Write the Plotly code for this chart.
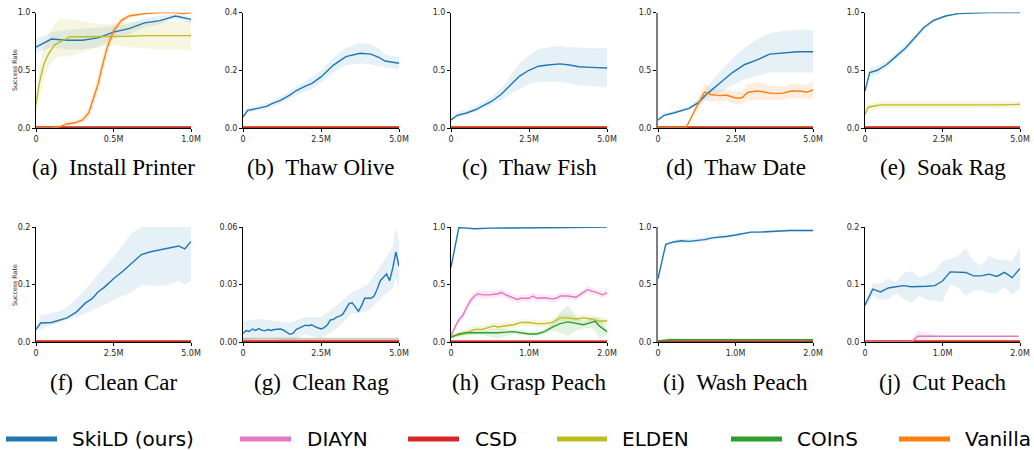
import plotly.graph_objects as go

W, H = 1034, 450

METHODS = ["SkiLD (ours)", "DIAYN", "CSD", "ELDEN", "COInS", "Vanilla"]
COLORS = ["#1f77b4", "#e377c2", "#d62728", "#bcbd22", "#2ca02c", "#ff7f0e"]
FILLS = ["rgba(31,119,180,0.11)", "rgba(227,119,194,0.16)", "rgba(120,80,70,0.30)",
         "rgba(188,189,34,0.14)", "rgba(44,160,44,0.14)", "rgba(255,127,14,0.13)"]

TITLES = ["(a)\u2002Install Printer", "(b)\u2002Thaw Olive", "(c)\u2002Thaw Fish", "(d)\u2002Thaw Date",
          "(e)\u2002Soak Rag", "(f)\u2002Clean Car", "(g)\u2002Clean Rag", "(h)\u2002Grasp Peach",
          "(i)\u2002Wash Peach", "(j)\u2002Cut Peach"]

X_MAX = [1.0, 5.0, 5.0, 5.0, 5.0, 5.0, 5.0, 2.0, 2.0, 2.0]
X_TICKS = [[0, 0.5, 1.0], [0, 2.5, 5.0], [0, 2.5, 5.0], [0, 2.5, 5.0], [0, 2.5, 5.0],
           [0, 2.5, 5.0], [0, 2.5, 5.0], [0, 1.0, 2.0], [0, 1.0, 2.0], [0, 1.0, 2.0]]
X_TICK_TEXT = [["0", "0.5M", "1.0M"]] + [["0", "2.5M", "5.0M"]] * 6 + [["0", "1.0M", "2.0M"]] * 3
Y_MAX = [1.0, 0.4, 1.0, 1.0, 1.0, 0.2, 0.06, 1.0, 1.0, 0.2]
Y_TICKS = [[0, 0.5, 1.0], [0, 0.2, 0.4], [0, 0.5, 1.0], [0, 0.5, 1.0], [0, 0.5, 1.0],
           [0, 0.1, 0.2], [0, 0.03, 0.06], [0, 0.5, 1.0], [0, 0.5, 1.0], [0, 0.1, 0.2]]
Y_TICK_TEXT = [["0.0", "0.5", "1.0"], ["0.0", "0.2", "0.4"], ["0.0", "0.5", "1.0"], ["0.0", "0.5", "1.0"],
               ["0.0", "0.5", "1.0"], ["0.0", "0.1", "0.2"], ["0.00", "0.03", "0.06"],
               ["0.0", "0.5", "1.0"], ["0.0", "0.5", "1.0"], ["0.0", "0.1", "0.2"]]

# ---------------- (a) Install Printer ----------------
a_skild_x = [0, 0.1, 0.2, 0.3, 0.4, 0.5, 0.6, 0.7, 0.8, 0.9, 1.0]
a_skild = [0.70, 0.77, 0.76, 0.76, 0.78, 0.83, 0.86, 0.91, 0.93, 0.97, 0.94]
a_skild_lo = [0.65, 0.70, 0.68, 0.68, 0.70, 0.77, 0.81, 0.87, 0.90, 0.95, 0.91]
a_skild_hi = [0.77, 0.83, 0.85, 0.86, 0.87, 0.88, 0.90, 0.95, 0.97, 0.99, 0.96]
a_elden_x = [0, 0.02, 0.05, 0.08, 0.12, 0.16, 0.22, 0.3, 0.4, 0.5, 0.6, 0.7, 0.8, 0.9, 1.0]
a_elden = [0.20, 0.38, 0.55, 0.64, 0.72, 0.75, 0.79, 0.79, 0.79, 0.795, 0.795, 0.80, 0.80, 0.80, 0.80]
a_elden_lo = [0.12, 0.25, 0.42, 0.52, 0.60, 0.62, 0.62, 0.66, 0.70, 0.72, 0.70, 0.69, 0.68, 0.68, 0.67]
a_elden_hi = [0.28, 0.52, 0.70, 0.80, 0.90, 0.95, 0.94, 0.92, 0.90, 0.90, 0.92, 0.92, 0.92, 0.92, 0.93]
a_van_x = [0, 0.1, 0.15, 0.2, 0.25, 0.3, 0.34, 0.37, 0.4, 0.43, 0.46, 0.5, 0.55, 0.6, 0.7, 0.8, 0.9, 0.95, 1.0]
a_van = [0, 0, 0.01, 0.035, 0.045, 0.07, 0.13, 0.25, 0.38, 0.55, 0.70, 0.84, 0.93, 0.97, 0.99, 1.0, 1.0, 0.99, 1.0]
a_van_hw = [0, 0, 0.01, 0.02, 0.02, 0.03, 0.05, 0.07, 0.08, 0.08, 0.07, 0.05, 0.03, 0.02, 0.01, 0.01, 0.01, 0.01, 0.01]

# ---------------- (b) Thaw Olive ----------------
b_skild_x = [0, 0.15, 0.3, 0.55, 0.75, 0.95, 1.2, 1.5, 1.7, 2.0, 2.2, 2.5, 2.9, 3.3, 3.75, 4.1, 4.35, 4.55, 5.0]
b_skild = [0.038, 0.061, 0.064, 0.071, 0.075, 0.085, 0.096, 0.114, 0.129, 0.145, 0.154, 0.177, 0.218, 0.247,
           0.259, 0.256, 0.245, 0.232, 0.224]
b_skild_hw = [0.005, 0.008, 0.008, 0.010, 0.010, 0.010, 0.012, 0.013, 0.015, 0.018, 0.020, 0.022, 0.025, 0.030,
              0.035, 0.035, 0.030, 0.022, 0.022]

# ---------------- (c) Thaw Fish ----------------
c_skild_x = [0, 0.2, 0.5, 0.8, 1.0, 1.3, 1.6, 1.9, 2.2, 2.5, 2.8, 3.1, 3.5, 3.8, 4.1, 4.5, 5.0]
c_skild = [0.07, 0.11, 0.13, 0.16, 0.19, 0.23, 0.29, 0.37, 0.45, 0.50, 0.535, 0.545, 0.555, 0.545, 0.53, 0.525, 0.52]
c_skild_lo = [0.06, 0.09, 0.11, 0.14, 0.16, 0.20, 0.24, 0.29, 0.34, 0.38, 0.40, 0.40, 0.40, 0.39, 0.37, 0.36, 0.35]
c_skild_hi = [0.08, 0.14, 0.16, 0.19, 0.22, 0.27, 0.34, 0.45, 0.56, 0.63, 0.68, 0.70, 0.71, 0.70, 0.70, 0.69, 0.69]

# ---------------- (d) Thaw Date ----------------
d_skild_x = [0, 0.2, 0.5, 0.8, 1.0, 1.3, 1.6, 2.0, 2.4, 2.8, 3.2, 3.6, 4.0, 4.5, 5.0]
d_skild = [0.07, 0.11, 0.13, 0.15, 0.17, 0.22, 0.30, 0.39, 0.48, 0.55, 0.59, 0.64, 0.65, 0.66, 0.66]
d_skild_lo = [0.06, 0.10, 0.12, 0.14, 0.16, 0.20, 0.26, 0.31, 0.37, 0.42, 0.45, 0.48, 0.48, 0.48, 0.48]
d_skild_hi = [0.08, 0.13, 0.15, 0.17, 0.19, 0.25, 0.36, 0.49, 0.60, 0.70, 0.77, 0.82, 0.84, 0.85, 0.85]
d_van_x = [0, 0.9, 1.2, 1.5, 1.7, 2.0, 2.2, 2.5, 2.7, 2.9, 3.2, 3.5, 3.7, 4.0, 4.3, 4.6, 4.8, 5.0]
d_van = [0, 0, 0.16, 0.31, 0.29, 0.28, 0.285, 0.26, 0.26, 0.31, 0.32, 0.31, 0.30, 0.30, 0.32, 0.32, 0.31, 0.33]
d_van_hw = [0, 0, 0.04, 0.07, 0.06, 0.05, 0.05, 0.05, 0.06, 0.07, 0.08, 0.07, 0.06, 0.06, 0.06, 0.06, 0.06, 0.08]

# ---------------- (e) Soak Rag ----------------
e_skild_x = [0, 0.1, 0.15, 0.4, 0.7, 1.0, 1.3, 1.6, 1.9, 2.2, 2.6, 3.0, 3.5, 4.0, 5.0]
e_skild = [0.32, 0.42, 0.48, 0.50, 0.55, 0.62, 0.69, 0.78, 0.87, 0.93, 0.97, 0.99, 0.995, 1.0, 1.0]
e_skild_hw = [0.02, 0.03, 0.04, 0.04, 0.03, 0.03, 0.035, 0.03, 0.02, 0.015, 0.01, 0.005, 0.005, 0.003, 0.003]
e_elden_x = [0, 0.1, 0.3, 0.5, 1.0, 1.5, 2.0, 2.5, 3.0, 3.5, 4.0, 4.5, 5.0]
e_elden = [0.12, 0.18, 0.19, 0.20, 0.20, 0.20, 0.20, 0.20, 0.20, 0.195, 0.20, 0.20, 0.205]
e_elden_hw = [0.01, 0.025, 0.03, 0.03, 0.03, 0.03, 0.03, 0.03, 0.03, 0.03, 0.03, 0.03, 0.03]

# ---------------- (f) Clean Car ----------------
f_skild_x = [0, 0.15, 0.5, 0.8, 1.0, 1.3, 1.6, 1.8, 2.0, 2.2, 2.5, 2.8, 3.1, 3.4, 3.7, 4.0, 4.3, 4.6, 4.8, 5.0]
f_skild = [0.022, 0.033, 0.034, 0.038, 0.042, 0.052, 0.068, 0.075, 0.087, 0.095, 0.11, 0.123, 0.138, 0.152,
           0.157, 0.16, 0.163, 0.167, 0.162, 0.175]
f_skild_lo = [0.020, 0.022, 0.030, 0.034, 0.038, 0.044, 0.050, 0.055, 0.060, 0.065, 0.073, 0.080, 0.088, 0.099,
              0.098, 0.097, 0.100, 0.106, 0.100, 0.106]
f_skild_hi = [0.026, 0.047, 0.050, 0.055, 0.061, 0.075, 0.092, 0.105, 0.119, 0.130, 0.148, 0.170, 0.190, 0.200,
              0.200, 0.200, 0.200, 0.200, 0.200, 0.200]

# ---------------- (g) Clean Rag ----------------
g_skild_x = [0.0, 0.1, 0.2, 0.3, 0.4, 0.5, 0.6, 0.7, 0.8, 0.9, 1.0, 1.1, 1.2, 1.3, 1.4, 1.5, 1.6, 1.7, 1.8,
             1.9, 2.0, 2.1, 2.2, 2.3, 2.4, 2.5, 2.6, 2.7, 2.8, 2.9, 3.0, 3.1, 3.2, 3.3, 3.4, 3.5, 3.6, 3.7,
             3.8, 3.9, 4.0, 4.1, 4.2, 4.3, 4.4, 4.5, 4.6, 4.7, 4.8, 4.9, 5.0]
g_skild = [0.0045, 0.0060, 0.0055, 0.0068, 0.0060, 0.0070, 0.0062, 0.0058, 0.0065, 0.0060, 0.0065, 0.0066,
           0.0068, 0.0062, 0.0050, 0.0040, 0.0045, 0.0065, 0.0072, 0.0080, 0.0088, 0.0085, 0.0090, 0.0080,
           0.0072, 0.0068, 0.0075, 0.0088, 0.0115, 0.0118, 0.0130, 0.0135, 0.0145, 0.0175, 0.0200, 0.0205,
           0.0180, 0.0160, 0.0190, 0.0228, 0.0228, 0.0228, 0.0240, 0.0275, 0.0320, 0.0335, 0.0355, 0.0320,
           0.0385, 0.0470, 0.0395]
g_band_x = [0, 0.5, 1.0, 1.5, 2.0, 2.5, 3.0, 3.5, 4.0, 4.5, 4.8, 4.9, 5.0]
g_skild_lo = [0.001, 0.002, 0.002, 0.000, 0.004, 0.002, 0.007, 0.015, 0.016, 0.024, 0.028, 0.033, 0.028]
g_skild_hi = [0.011, 0.012, 0.011, 0.010, 0.013, 0.013, 0.019, 0.026, 0.030, 0.042, 0.050, 0.060, 0.052]
g_csd_x = [0, 5.0]
g_csd = [0, 0]
g_csd_lo = [0, 0]
g_csd_hi = [0.0022, 0.0022]

# ---------------- (h) Grasp Peach ----------------
h_skild_x = [0, 0.1, 0.2, 0.3, 0.5, 0.7, 1.0, 1.5, 2.0]
h_skild = [0.65, 0.995, 0.99, 0.985, 0.99, 0.99, 0.995, 0.995, 1.0]
h_skild_hw = [0.01, 0.008, 0.008, 0.008, 0.006, 0.006, 0.005, 0.005, 0.004]
h_diayn_x = [0, 0.05, 0.1, 0.15, 0.2, 0.25, 0.3, 0.35, 0.4, 0.5, 0.6, 0.65, 0.7, 0.8, 0.85, 0.9, 0.95, 1.0,
             1.05, 1.1, 1.2, 1.3, 1.35, 1.4, 1.5, 1.6, 1.65, 1.75, 1.8, 1.9, 1.95, 2.0]
h_diayn = [0.05, 0.13, 0.19, 0.23, 0.30, 0.36, 0.40, 0.42, 0.41, 0.41, 0.42, 0.43, 0.41, 0.38, 0.37, 0.38,
           0.38, 0.38, 0.40, 0.38, 0.385, 0.375, 0.38, 0.40, 0.40, 0.39, 0.41, 0.455, 0.445, 0.42, 0.41, 0.43]
h_diayn_hw = [0.01, 0.02, 0.03, 0.03, 0.035, 0.035, 0.035, 0.035, 0.035, 0.03, 0.03, 0.03, 0.03, 0.03, 0.03,
              0.03, 0.03, 0.03, 0.03, 0.03, 0.03, 0.03, 0.03, 0.03, 0.03, 0.03, 0.03, 0.03, 0.03, 0.03, 0.03, 0.03]
h_elden_x = [0, 0.1, 0.2, 0.3, 0.4, 0.5, 0.55, 0.6, 0.7, 0.8, 0.9, 1.0, 1.1, 1.2, 1.3, 1.4, 1.5, 1.6, 1.7,
             1.8, 1.9, 2.0]
h_elden = [0.05, 0.06, 0.08, 0.11, 0.11, 0.13, 0.14, 0.13, 0.14, 0.15, 0.17, 0.17, 0.16, 0.16, 0.17, 0.21,
           0.21, 0.20, 0.21, 0.20, 0.18, 0.185]
h_elden_hw = [0.01, 0.02, 0.03, 0.03, 0.03, 0.03, 0.03, 0.03, 0.03, 0.03, 0.03, 0.03, 0.03, 0.03, 0.03, 0.03,
              0.03, 0.03, 0.03, 0.03, 0.03, 0.03]
h_coins_x = [0, 0.1, 0.2, 0.4, 0.6, 0.8, 0.9, 1.0, 1.1, 1.2, 1.3, 1.4, 1.5, 1.6, 1.7, 1.8, 1.85, 1.9, 2.0]
h_coins = [0.04, 0.07, 0.08, 0.08, 0.08, 0.09, 0.08, 0.07, 0.07, 0.09, 0.13, 0.16, 0.175, 0.16, 0.15, 0.17,
           0.18, 0.14, 0.09]
h_coins_lo = [0.03, 0.05, 0.06, 0.06, 0.03, 0.07, 0.06, 0.055, 0.055, 0.07, 0.10, 0.08, 0.05, 0.10, 0.12,
              0.12, 0.10, 0.03, 0.06]
h_coins_hi = [0.05, 0.09, 0.10, 0.10, 0.12, 0.11, 0.10, 0.09, 0.09, 0.11, 0.17, 0.26, 0.32, 0.22, 0.18, 0.21,
              0.22, 0.21, 0.12]

# ---------------- (i) Wash Peach ----------------
i_skild_x = [0, 0.1, 0.2, 0.3, 0.4, 0.5, 0.6, 0.7, 0.8, 0.9, 1.0, 1.1, 1.2, 1.3, 1.5, 1.7, 2.0]
i_skild = [0.55, 0.85, 0.87, 0.88, 0.875, 0.88, 0.89, 0.905, 0.91, 0.92, 0.93, 0.945, 0.955, 0.955, 0.96,
           0.97, 0.97]
i_skild_hw = [0.01, 0.015, 0.015, 0.02, 0.02, 0.02, 0.02, 0.015, 0.015, 0.015, 0.012, 0.012, 0.012, 0.01,
              0.01, 0.01, 0.01]
i_coins_x = [0, 0.1, 0.15, 0.2, 0.3, 0.5, 1.0, 1.5, 2.0]
i_coins = [0.01, 0.02, 0.02, 0.02, 0.02, 0.02, 0.02, 0.02, 0.02]
i_coins_lo = [0.005, 0.012, 0.010, 0.012, 0.016, 0.018, 0.018, 0.018, 0.018]
i_coins_hi = [0.015, 0.030, 0.040, 0.035, 0.025, 0.022, 0.022, 0.022, 0.022]

# ---------------- (j) Cut Peach ----------------
j_skild_x = [0, 0.1, 0.2, 0.3, 0.4, 0.5, 0.6, 0.7, 0.8, 0.9, 1.0, 1.1, 1.2, 1.3, 1.4, 1.5, 1.6, 1.7, 1.8,
             1.9, 2.0]
j_skild = [0.064, 0.092, 0.087, 0.094, 0.096, 0.098, 0.096, 0.096, 0.097, 0.098, 0.106, 0.122, 0.122, 0.121,
           0.115, 0.115, 0.118, 0.114, 0.121, 0.112, 0.128]
j_skild_lo = [0.060, 0.080, 0.073, 0.075, 0.085, 0.075, 0.068, 0.080, 0.073, 0.071, 0.070, 0.100, 0.095,
              0.080, 0.090, 0.090, 0.085, 0.085, 0.095, 0.082, 0.093]
j_skild_hi = [0.070, 0.102, 0.102, 0.110, 0.105, 0.120, 0.123, 0.112, 0.117, 0.124, 0.140, 0.145, 0.150,
              0.163, 0.140, 0.133, 0.150, 0.143, 0.143, 0.140, 0.165]
j_diayn_x = [0, 0.6, 0.68, 1.0, 1.5, 1.98]
j_diayn = [0, 0, 0.01, 0.01, 0.01, 0.01]
j_diayn_lo = [0, 0, 0.003, 0.01, 0.01, 0.01]
j_diayn_hi = [0, 0, 0.02, 0.01, 0.01, 0.01]

ZERO_Y = [0, 0]


def hw_band(y, hw):
    return [v - h for v, h in zip(y, hw)], [v + h for v, h in zip(y, hw)]


# curves per panel: (method index, x, y, band_x, lo, hi)
PANELS = [
    [(0, a_skild_x, a_skild, a_skild_x, a_skild_lo, a_skild_hi),
     (3, a_elden_x, a_elden, a_elden_x, a_elden_lo, a_elden_hi),
     (5, a_van_x, a_van, a_van_x, *hw_band(a_van, a_van_hw))],
    [(0, b_skild_x, b_skild, b_skild_x, *hw_band(b_skild, b_skild_hw))],
    [(0, c_skild_x, c_skild, c_skild_x, c_skild_lo, c_skild_hi)],
    [(0, d_skild_x, d_skild, d_skild_x, d_skild_lo, d_skild_hi),
     (5, d_van_x, d_van, d_van_x, *hw_band(d_van, d_van_hw))],
    [(0, e_skild_x, e_skild, e_skild_x, *hw_band(e_skild, e_skild_hw)),
     (3, e_elden_x, e_elden, e_elden_x, *hw_band(e_elden, e_elden_hw))],
    [(0, f_skild_x, f_skild, f_skild_x, f_skild_lo, f_skild_hi)],
    [(0, g_skild_x, g_skild, g_band_x, g_skild_lo, g_skild_hi),
     (2, g_csd_x, g_csd, g_csd_x, g_csd_lo, g_csd_hi)],
    [(0, h_skild_x, h_skild, h_skild_x, *hw_band(h_skild, h_skild_hw)),
     (1, h_diayn_x, h_diayn, h_diayn_x, *hw_band(h_diayn, h_diayn_hw)),
     (3, h_elden_x, h_elden, h_elden_x, *hw_band(h_elden, h_elden_hw)),
     (4, h_coins_x, h_coins, h_coins_x, h_coins_lo, h_coins_hi)],
    [(0, i_skild_x, i_skild, i_skild_x, *hw_band(i_skild, i_skild_hw)),
     (4, i_coins_x, i_coins, i_coins_x, i_coins_lo, i_coins_hi)],
    [(0, j_skild_x, j_skild, j_skild_x, j_skild_lo, j_skild_hi),
     (1, j_diayn_x, j_diayn, j_diayn_x, j_diayn_lo, j_diayn_hi)],
]

COL_PX = [(36, 191), (243, 399), (451, 607), (658, 813), (865, 1020)]
ROW_PX = [(12.5, 128), (227, 342)]
TITLE_Y_PX = [167, 382]

fig = go.Figure()
layout = {}
annotations = []
shapes = []
TICK_FONT = dict(family="DejaVu Sans", size=8, color="#262626")

for p in range(10):
    r, c = divmod(p, 5)
    xa = "x" if p == 0 else f"x{p + 1}"
    ya = "y" if p == 0 else f"y{p + 1}"
    xk = "xaxis" if p == 0 else f"xaxis{p + 1}"
    yk = "yaxis" if p == 0 else f"yaxis{p + 1}"
    x0, x1 = COL_PX[c]
    yt, yb = ROW_PX[r]
    gray_spine = p in (3, 8)
    layout[xk] = dict(domain=[x0 / W, x1 / W], anchor=ya, range=[0, X_MAX[p]], automargin=False,
                      tickvals=X_TICKS[p], ticktext=X_TICK_TEXT[p], ticks="outside", ticklen=3,
                      tickwidth=1, tickcolor="#000", showline=True, linecolor="#000", linewidth=1,
                      showgrid=False, zeroline=False, tickfont=TICK_FONT, fixedrange=True)
    layout[yk] = dict(domain=[1 - yb / H, 1 - yt / H], anchor=xa, range=[0, Y_MAX[p]], automargin=False,
                      tickvals=Y_TICKS[p], ticktext=Y_TICK_TEXT[p], ticks="outside", ticklen=3,
                      tickwidth=1, tickcolor="#000", showline=True,
                      linecolor="#7f7f7f" if gray_spine else "#000",
                      linewidth=2 if gray_spine else 1,
                      showgrid=False, zeroline=False, tickfont=TICK_FONT, fixedrange=True)

    curves = PANELS[p]
    present = {cv[0] for cv in curves if max(cv[2]) > 0}
    # bands first
    for m, x, y, bx, lo, hi in curves:
        fig.add_trace(go.Scatter(x=list(bx) + list(bx)[::-1], y=list(hi) + list(lo)[::-1], fill="toself",
                                 fillcolor=FILLS[m], line=dict(width=0), mode="lines", hoverinfo="skip",
                                 showlegend=False, xaxis=xa, yaxis=ya))
    # zero lines of methods that stay at 0
    for m in [1, 4, 3, 5, 2]:
        if m not in present:
            fig.add_trace(go.Scatter(x=[0, X_MAX[p]], y=ZERO_Y, mode="lines",
                                     line=dict(color=COLORS[m], width=2.8), hoverinfo="skip",
                                     showlegend=False, xaxis=xa, yaxis=ya))
    for m, x, y, bx, lo, hi in curves:
        if m in present:
            fig.add_trace(go.Scatter(x=x, y=y, mode="lines", line=dict(color=COLORS[m], width=1.4),
                                     name=METHODS[m], showlegend=False, xaxis=xa, yaxis=ya))

    annotations.append(dict(text=TITLES[p], x=(x0 + x1) / 2 / W, y=1 - TITLE_Y_PX[r] / H,
                            xref="paper", yref="paper", showarrow=False, xanchor="center",
                            yanchor="middle", font=dict(family="Liberation Serif", size=23, color="#000")))

for r, yc in enumerate([70, 285]):
    annotations.append(dict(text="Success Rate", x=14 / W, y=1 - yc / H, xref="paper", yref="paper",
                            showarrow=False, textangle=-90, xanchor="center", yanchor="middle",
                            font=dict(family="DejaVu Sans", size=6.3, color="#262626")))

# legend row (swatch + label for each method)
LEG_LINE_X = [(6, 57), (240, 291), (408, 459), (557, 607), (731, 782), (899, 950)]
LEG_TEXT_X = [70, 305, 473, 620, 795, 963]
LEG_Y = 1 - 439 / H
for k, m in enumerate(METHODS):
    lx0, lx1 = LEG_LINE_X[k]
    shapes.append(dict(type="line", xref="paper", yref="paper", x0=lx0 / W, x1=lx1 / W, y0=LEG_Y, y1=LEG_Y,
                       line=dict(color=COLORS[k], width=5)))
    annotations.append(dict(text=m, x=LEG_TEXT_X[k] / W, y=LEG_Y, xref="paper", yref="paper",
                            showarrow=False, xanchor="left", yanchor="middle",
                            font=dict(family="DejaVu Sans", size=20, color="#000")))

fig.update_layout(width=W, height=H, margin=dict(l=0, r=0, t=0, b=0), plot_bgcolor="white",
                  paper_bgcolor="white", annotations=annotations, shapes=shapes, showlegend=False,
                  **layout)

fig.write_html("out.html", config={"displayModeBar": False, "staticPlot": True},
               post_script="document.body.style.margin='0';document.body.style.padding='0';")
